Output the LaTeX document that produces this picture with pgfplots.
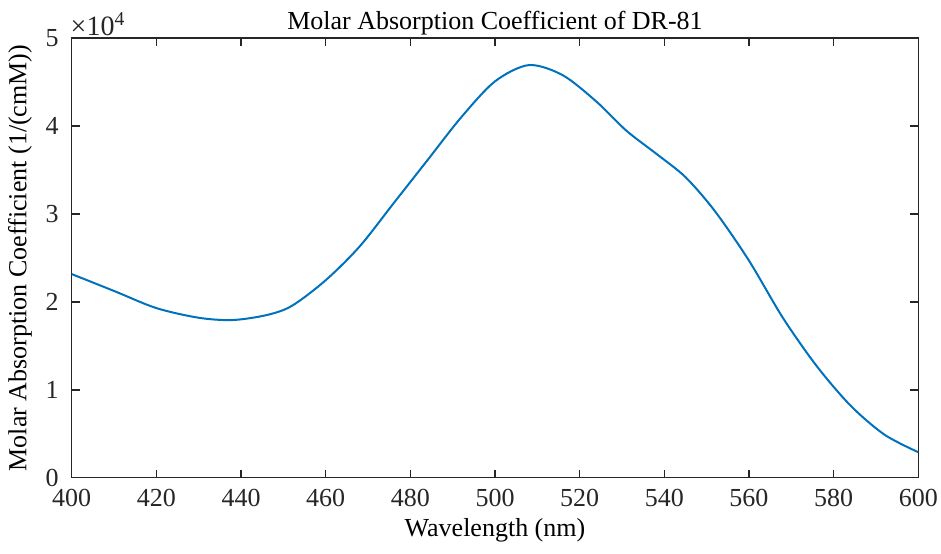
\documentclass[border=0pt]{standalone}
\usepackage{fontspec}
\setmainfont{Liberation Serif}
\usepackage{pgfplots}
\pgfplotsset{compat=1.18}
\definecolor{mblue}{RGB}{0,114,189}
\definecolor{axgray}{RGB}{38,38,38}
\begin{document}
\fontsize{13}{15}\selectfont
\begin{tikzpicture}
\begin{axis}[
  name=ax,
  scale only axis,
  width=423.3pt, height=219.7pt,
  xmin=400, xmax=600, ymin=0, ymax=5,
  xtick={400,420,...,600},
  ytick={0,1,2,3,4,5},
  /pgf/number format/assume math mode=true,
  tick align=inside,
  major tick length=4pt,
  axis line style={axgray, line width=0.8pt},
  tick style={axgray, line width=0.8pt},
  every tick label/.append style={font=\fontsize{13}{15}\selectfont, text=axgray},
  xticklabel style={yshift=-1pt},
  yticklabel style={xshift=-2pt},
  title={Molar Absorption Coefficient of DR-81},
  title style={font=\fontsize{13}{15}\selectfont, yshift=-9pt},
  xlabel={Wavelength (nm)},
  ylabel={Molar Absorption Coefficient (1/(cmM))},
  xlabel style={font=\fontsize{13}{15}\selectfont, yshift=3pt},
  ylabel style={font=\fontsize{13}{15}\selectfont, yshift=-2pt},
  extra description/.code={
    \node[anchor=south west, inner sep=1pt, text=axgray, font=\fontsize{14}{16}\selectfont] at (rel axis cs:-0.004,1) {×10\textsuperscript{4}};
  },
]
\addplot[mblue, line width=1pt, smooth] coordinates {
(400,2.317) (410,2.125) (420,1.93) (430,1.82) (438,1.794) (446,1.85)
(452,1.955) (460,2.247) (468,2.63) (476,3.12) (484,3.61) (492,4.10)
(500,4.51) (508,4.695) (516,4.58) (524,4.278) (531,3.95) (538,3.69)
(545,3.42) (552,3.03) (560,2.47) (568,1.82) (576,1.27) (584,0.82)
(592,0.49) (600,0.29)
};
\end{axis}
\pgfresetboundingbox
\path ([shift={(-35.85pt,-38.15pt)}]ax.south west) rectangle ([shift={(11.35pt,19.15pt)}]ax.north east);
\end{tikzpicture}
\end{document}
